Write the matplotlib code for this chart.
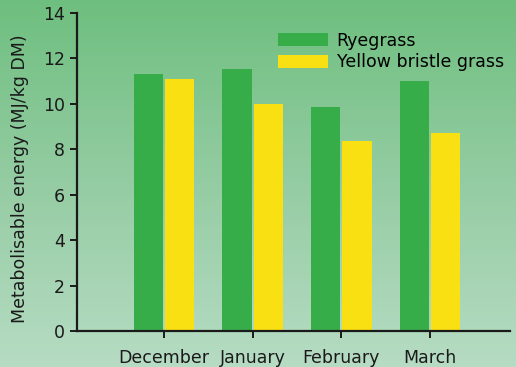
# Metabolisable energy of ryegrass vs yellow bristle grass by month
import numpy as np
import matplotlib.pyplot as plt
from matplotlib.colors import LinearSegmentedColormap

months = ['December', 'January', 'February', 'March']
ryegrass = [11.3, 11.55, 9.85, 11.0]
bristle = [11.1, 10.0, 8.35, 8.7]

fig = plt.figure(figsize=(5.16, 3.67), dpi=100)

# Background gradient (green at top, pale at bottom)
bg = fig.add_axes([0, 0, 1, 1], zorder=-1)
cmap = LinearSegmentedColormap.from_list('bg', ['#b6dcc3', '#95cca3', '#6ebf7f'])
grad = np.linspace(0, 1, 256).reshape(-1, 1)
bg.imshow(grad, aspect='auto', cmap=cmap, origin='lower', extent=[0, 1, 0, 1])
bg.axis('off')

ax = fig.add_axes([77 / 516, 36 / 367, 433 / 516, 318 / 367])
ax.patch.set_alpha(0)

x = np.arange(len(months))
w = 0.33
ax.bar(x - w / 2 - 0.012, ryegrass, w, color='#37ad4a', label='Ryegrass')
ax.bar(x + w / 2 + 0.012, bristle, w, color='#f9e012', label='Yellow bristle grass')

ax.set_xlim(-0.98, 3.9)
ax.set_ylim(0, 14)
ax.set_yticks(range(0, 15, 2))
ax.set_xticks(x)
ax.set_xticklabels(months)

for s in ['top', 'right']:
    ax.spines[s].set_visible(False)
for s in ['left', 'bottom']:
    ax.spines[s].set_linewidth(1.6)
    ax.spines[s].set_color('#1a1a1a')
ax.tick_params(axis='both', labelsize=12.5, colors='#1a1a1a', width=1.4, length=5)
ax.tick_params(axis='x', pad=8)

ax.set_ylabel('Metabolisable energy (MJ/kg DM)', fontsize=12.5, color='#1a1a1a')
ax.yaxis.set_label_coords(-0.11, 0.48)

ax.legend(loc='upper left', bbox_to_anchor=(0.435, 0.98), frameon=False, fontsize=12.5,
          handlelength=2.9, handleheight=0.8, labelspacing=0.22, handletextpad=0.5,
          borderaxespad=0.3)

plt.savefig('out.png', dpi=100)
